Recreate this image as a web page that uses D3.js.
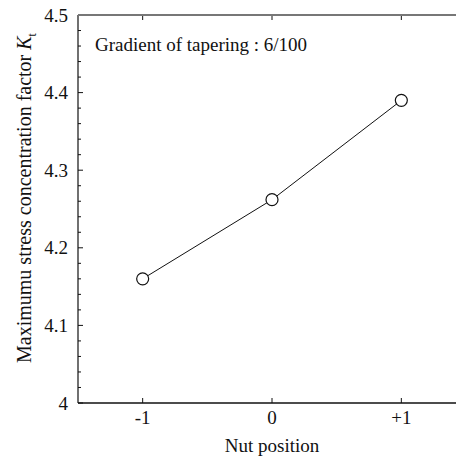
<!DOCTYPE html>
<html><head><meta charset="utf-8">
<script src="https://cdn.jsdelivr.net/npm/d3@7"></script>
<style>body{margin:0;background:#fff}svg{display:block}</style>
</head><body>
<svg id="c" width="456" height="459" font-family="'Liberation Serif', serif"></svg>
<script>
const positions = [-1, 0, 1];
const ktValues = [4.16, 4.262, 4.39];
const xTickLabels = ["-1", "0", "+1"];
const yTicks = [4, 4.1, 4.2, 4.3, 4.4, 4.5];
const yTickLabels = ["4", "4.1", "4.2", "4.3", "4.4", "4.5"];
const annotation = "Gradient of tapering : 6/100";

const svg = d3.select("#c");
const x = d3.scaleLinear().domain([-1.5, 1.5]).range([78, 466]);
const y = d3.scaleLinear().domain([4, 4.5]).range([403, 15]);
const fs = 19;
const ff = "Liberation Serif";

const minor = d3.range(4, 4.5001, 0.02);
svg.append("g").selectAll("line").data(minor).join("line")
  .attr("x1", x(-1.5)).attr("x2", d => x(-1.5) + (Math.abs(d*10 - Math.round(d*10)) < 1e-6 ? 5 : 3))
  .attr("y1", d => y(d)).attr("y2", d => y(d)).attr("stroke", "#111").attr("stroke-width", 1);

svg.append("g").selectAll("line").data(positions).join("line")
  .attr("x1", d => x(d)).attr("x2", d => x(d)).attr("y1", y(4)).attr("y2", y(4) - 5)
  .attr("stroke", "#111");
svg.append("g").selectAll("line").data(positions).join("line")
  .attr("x1", d => x(d)).attr("x2", d => x(d)).attr("y1", y(4.5)).attr("y2", y(4.5) + 5)
  .attr("stroke", "#111");

svg.append("line").attr("x1", x(-1.5)).attr("x2", x(-1.5)).attr("y1", y(4.5)).attr("y2", y(4))
  .attr("stroke", "#111").attr("stroke-width", 1.2);
svg.append("line").attr("x1", x(-1.5)).attr("x2", x(1.5)).attr("y1", y(4)).attr("y2", y(4))
  .attr("stroke", "#111").attr("stroke-width", 1.5);
svg.append("line").attr("x1", x(-1.5)).attr("x2", x(1.5)).attr("y1", y(4.5)).attr("y2", y(4.5))
  .attr("stroke", "#777").attr("stroke-width", 2);

svg.append("g").selectAll("text").data(yTicks).join("text")
  .attr("font-family", ff)
  .attr("x", x(-1.5) - 10).attr("y", d => y(d)).attr("dy", "0.35em")
  .attr("text-anchor", "end").attr("font-size", fs).attr("fill", "#111").text((d, i) => yTickLabels[i]);

svg.append("g").selectAll("text").data(positions).join("text")
  .attr("font-family", ff)
  .attr("x", d => x(d)).attr("y", 424).attr("text-anchor", "middle")
  .attr("font-size", fs).attr("fill", "#111").text((d, i) => xTickLabels[i]);

svg.append("text").attr("font-family", ff).attr("x", x(0)).attr("y", 452).attr("text-anchor", "middle")
  .attr("font-size", fs).attr("fill", "#111").text("Nut position");

const yl = svg.append("text").attr("font-family", ff).attr("transform", "translate(31,198) rotate(-90)")
  .attr("text-anchor", "middle").attr("font-size", 20).attr("fill", "#111");
yl.append("tspan").text("Maximumu stress concentration factor ");
yl.append("tspan").attr("font-style", "italic").text("K");
yl.append("tspan").attr("font-size", 12).attr("dy", 5).text("t");

svg.append("text").attr("font-family", ff).attr("x", 95).attr("y", 51).attr("font-size", fs)
  .attr("fill", "#111").text(annotation);

const data = positions.map((p, i) => ({p, v: ktValues[i]}));
svg.append("path").datum(data)
  .attr("d", d3.line().x(d => x(d.p)).y(d => y(d.v)))
  .attr("fill", "none").attr("stroke", "#111").attr("stroke-width", 1);
svg.append("g").selectAll("circle").data(data).join("circle")
  .attr("cx", d => x(d.p)).attr("cy", d => y(d.v)).attr("r", 6)
  .attr("fill", "#fff").attr("stroke", "#111").attr("stroke-width", 1.2);
</script>
</body></html>
